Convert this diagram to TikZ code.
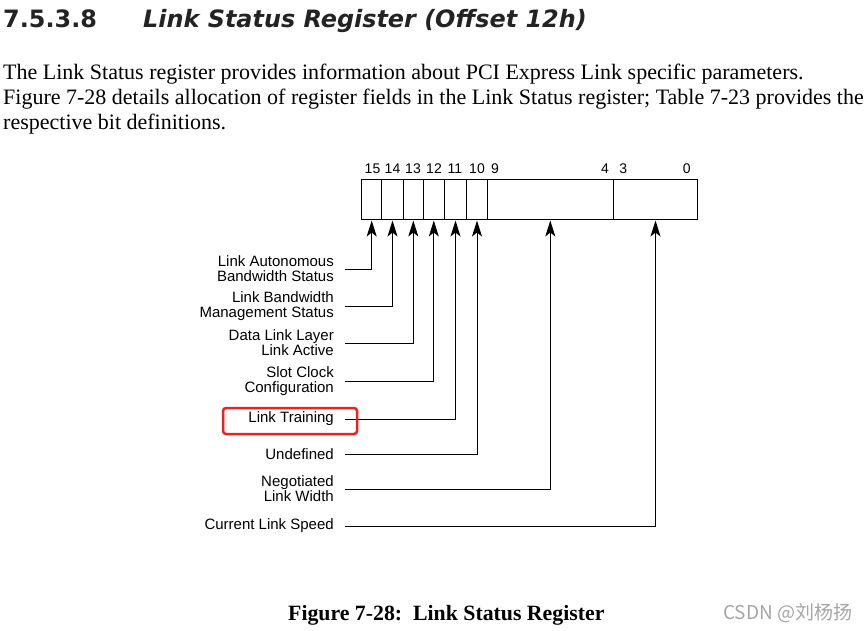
\documentclass[tikz,border=0pt]{standalone}
\usepackage{fontspec}
\setmainfont{Liberation Serif}
\setsansfont{Liberation Sans}
\newfontfamily\headfont{DejaVu Sans}[ItalicFont={DejaVu Sans Oblique},BoldItalicFont={DejaVu Sans Bold Oblique}]
\newfontfamily\cjkfont{Noto Sans CJK SC}
\usetikzlibrary{arrows.meta,positioning}
\definecolor{headgray}{RGB}{35,35,35}
\definecolor{hlred}{RGB}{238,32,32}
\definecolor{wmgray}{RGB}{165,165,165}

\begin{document}
\begin{tikzpicture}[x=1pt,y=-1pt,
    cell/.style={draw,line width=1pt,minimum height=39.7pt,inner sep=0pt,outer sep=0pt},
    bitno/.style={anchor=base,inner sep=0pt,font=\sffamily\fontsize{14pt}{14pt}\selectfont},
    field/.style={anchor=east,align=right,inner xsep=11pt,inner ysep=0pt,font=\sffamily\fontsize{15pt}{15pt}\selectfont},
    body/.style={anchor=base west,inner sep=0pt,font=\rmfamily\fontsize{22pt}{25pt}\selectfont},
    arr/.style={line width=1pt,-{Stealth[length=16pt,width=10pt,inset=4pt]},shorten >=1.5pt}]
			\useasboundingbox (0,0) rectangle (868,630);
			% heading and text
			\node[anchor=base west,inner sep=0pt,text=headgray,font=\headfont\bfseries\fontsize{23.9pt}{24pt}\selectfont] (secno) at (3,27.5) {7.5.3.8};
			\node[anchor=base west,inner sep=0pt,text=headgray,font=\headfont\bfseries\itshape\fontsize{23.9pt}{24pt}\selectfont] (sectitle) at (143,27.5) {Link Status Register (Offset 12h)};
			\node[body] (txt1) at (3,79.5) {The Link Status register provides information about PCI Express Link specific parameters.};
			\node[body] (txt2) at (3,104) {Figure 7-28 details allocation of register fields in the Link Status register; Table 7-23 provides the};
			\node[body] (txt3) at (3,129) {respective bit definitions.};
			% register cells
			\foreach \n/\l/\r in {15/361.7/381.7,14/381.7/403.3,13/403.3/423.3,12/423.3/444.3,11/444.3/466.7,10/466.7/487.3,9/487.3/613.3,3/613.3/697.7}
				\node[cell,minimum width=\r-\l] (b\n) at ({(\l+\r)/2},199.15) {};
			% bit numbers
			\foreach \n/\x in {15/372.5,14/392.5,13/413,12/434,11/455,10/477,9/495,4/605,3/623.3,0/686.7}
				\node[bitno] (n\n) at (\x,173) {\n};
			% field names
			\node[field] (lab15) at (345,269) {Link Autonomous\\Bandwidth Status};
			\node[field] (lab14) at (345,306) {Link Bandwidth\\Management Status};
			\node[field] (lab13) at (345,343) {Data Link Layer\\Link Active};
			\node[field] (lab12) at (345,381) {Slot Clock\\Configuration};
			\node[field] (lab11) at (345,419) {Link Training};
			\node[field] (lab10) at (345,454) {Undefined};
			\node[field] (lab9) at (345,489) {Negotiated\\Link Width};
			\node[field] (lab3) at (345,526) {Current Link Speed};
			\foreach \n in {15,14,13,12,11,10,9,3}
				\draw[arr] (lab\n.east) -| (b\n.south);
			% highlight
			\draw[hlred,line width=2.5pt,rounded corners=3pt] (223,408) rectangle (357,434);
			% caption
			\node[anchor=base west,inner sep=0pt,font=\rmfamily\bfseries\fontsize{21.8pt}{24pt}\selectfont] (cap) at (288,620) {Figure 7-28:\ \ Link Status Register};
			\node[anchor=base west,inner sep=0pt,text=wmgray,font=\cjkfont\fontsize{19pt}{19pt}\selectfont] (wm) at (723,619) {CSDN @刘杨扬};
		\end{tikzpicture}
\end{document}
